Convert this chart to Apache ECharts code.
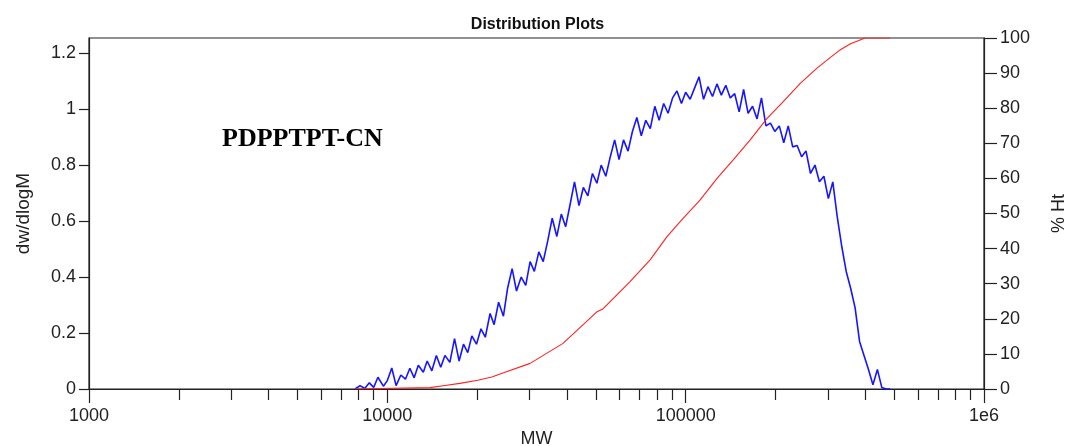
<!DOCTYPE html>
<html>
<head>
<meta charset="utf-8">
<script src="https://cdn.jsdelivr.net/npm/echarts@6/dist/echarts.min.js"></script>
<style>
html,body{margin:0;padding:0;background:#fff;}
#chart{width:1075px;height:446px;}
</style>
</head>
<body>
<div id="chart"></div>
<script>
// ---- data ----
const mw = [
  7800, 8100, 8400, 8700, 9000, 9300, 9700,
  10000, 10350, 10700, 11100, 11500, 11900, 12300, 12700, 13200, 13600,
  14100, 14600, 15100, 15600, 16200, 16800, 17400, 18000, 18600, 19200,
  19900, 20600, 21300, 22100, 22800, 23600, 24500, 25300, 26200, 27100,
  28100, 29100, 30100, 31100, 32200, 33300, 34500, 35700, 37000, 38300,
  39600, 41000, 42400, 43900, 45400, 47000, 48700, 50400, 52100, 54000,
  55900, 57800, 59800, 61900, 64100, 66300, 68600, 71000, 73500, 76100,
  78800, 81500, 84400, 87300, 90400, 93500, 96800,
  100000, 103500, 107100, 110900, 114800, 118800, 123000, 127300, 131700, 136300,
  141100, 146000, 151100, 156400, 161900, 167600, 173500, 179500, 185800, 192300,
  199000, 206000, 213200, 220700, 228400, 236400, 244700, 253200, 262100, 271300,
  280800, 290600, 300800, 311300, 322200, 333500, 345200, 357300, 369800, 382700,
  396100, 410000, 424300, 439200, 454500, 470000, 485000
];
const dwdlogM = [
  0, 0.012, 0.002, 0.022, 0.006, 0.042, 0.01,
  0.03, 0.075, 0.012, 0.05, 0.035, 0.074, 0.04, 0.085, 0.06, 0.1,
  0.065, 0.12, 0.078, 0.12, 0.095, 0.18, 0.1, 0.16, 0.13, 0.19,
  0.16, 0.215, 0.185, 0.27, 0.23, 0.31, 0.26, 0.36, 0.43, 0.35,
  0.40, 0.37, 0.455, 0.42, 0.49, 0.455, 0.53, 0.61, 0.545, 0.625,
  0.58, 0.66, 0.74, 0.655, 0.72, 0.69, 0.77, 0.735, 0.80, 0.76,
  0.83, 0.89, 0.82, 0.89, 0.85, 0.92, 0.97, 0.905, 0.96, 0.93,
  1.01, 0.96, 1.02, 0.985, 1.04, 1.065, 1.02,
  1.06, 1.035, 1.075, 1.115, 1.035, 1.08, 1.045, 1.09, 1.05, 1.085,
  1.04, 1.055, 0.99, 1.07, 0.985, 1.01, 0.965, 1.04, 0.94, 0.95,
  0.92, 0.94, 0.88, 0.94, 0.865, 0.87, 0.83, 0.85, 0.77, 0.80,
  0.74, 0.76, 0.68, 0.74, 0.615, 0.51, 0.42, 0.36, 0.29, 0.17,
  0.12, 0.07, 0.015, 0.07, 0.005, 0, 0
];
const redMw = [7800, 13900, 15600, 17500, 20100, 22400, 24800, 30100, 38800, 50400,
  52800, 65100, 76000, 86600, 98000, 111700, 127400, 144100, 164300, 187400,
  212000, 241700, 275600, 297700, 329200, 355500, 399300, 484200];
const pctHt = [0, 0.4, 1.0, 1.6, 2.5, 3.4, 4.8, 7.3, 13, 22,
  22.8, 30.6, 36.8, 43.4, 48.6, 53.8, 60, 65.2, 70.9, 77.1,
  81.8, 87, 91.4, 93.7, 96.6, 98.3, 100, 100];
const xMajorTicks = [1000, 10000, 100000, 1000000];
const xMinorTicks = [2000,3000,4000,5000,6000,7000,8000,9000,
  20000,30000,40000,50000,60000,70000,80000,90000,
  200000,300000,400000,500000,600000,700000,800000,900000];
const leftTicks = [0, 0.2, 0.4, 0.6, 0.8, 1, 1.2];
const rightTicks = [0,10,20,30,40,50,60,70,80,90,100];

const chart = echarts.init(document.getElementById('chart'), null, {renderer:'canvas'});
const FONT = 'Liberation Sans, Arial, Helvetica, sans-serif';
const axisCol = '#222';
const option = {
  animation: false,
  backgroundColor: '#fff',
  title: {
    text: 'Distribution Plots', left: 'center', top: 12,
    textStyle: {fontFamily: FONT, fontSize: 16, fontWeight: 'bold', color: '#111'}
  },
  grid: {left: 89, right: 91, top: 38, bottom: 57, show: true, borderColor: axisCol, borderWidth: 1.2,
    backgroundColor: 'transparent', containLabel: false, outerBoundsMode: 'none'},
  graphic: [{
    type: 'text', left: 222, top: 126,
    style: {text: 'PDPPTPT-CN', font: 'bold 26px "Liberation Serif", "Times New Roman", serif', fill: '#000'}
  }],
  xAxis: [{
    type: 'log', logBase: 10, min: 1000, max: 1000000,
    name: 'MW', nameLocation: 'middle', nameGap: 38,
    nameTextStyle: {fontFamily: FONT, fontSize: 18, color: '#222'},
    axisLine: {show: true, lineStyle: {color: axisCol, width: 1.2}},
    axisTick: {show: true, inside: false, length: 14, lineStyle: {color: axisCol, width: 1.2}, customValues: xMajorTicks},
    axisLabel: {fontFamily: FONT, fontSize: 18, color: '#222', margin: 18, customValues: xMajorTicks,
      formatter: v => v >= 1e6 ? '1e6' : String(Math.round(v))},
    splitLine: {show: false}
  }, {
    type: 'log', logBase: 10, min: 1000, max: 1000000, position: 'bottom',
    axisLine: {show: false},
    axisTick: {show: true, inside: false, length: 11, lineStyle: {color: axisCol, width: 1.2}, customValues: xMinorTicks},
    axisLabel: {show: false},
    splitLine: {show: false}
  }],
  yAxis: [{
    type: 'value', min: 0, max: 1.254, position: 'left',
    name: 'dw/dlogM', nameLocation: 'middle', nameGap: 56, nameRotate: 90,
    nameTextStyle: {fontFamily: FONT, fontSize: 19, color: '#222'},
    axisLine: {show: true, lineStyle: {color: axisCol, width: 1.2}},
    axisTick: {show: true, inside: false, length: 10, lineStyle: {color: axisCol, width: 1.2}, customValues: leftTicks},
    axisLabel: {fontFamily: FONT, fontSize: 18, color: '#222', margin: 13, customValues: leftTicks,
      formatter: v => String(Math.round(v * 10) / 10)},
    splitLine: {show: false}
  }, {
    type: 'value', min: 0, max: 100, interval: 10, position: 'right',
    name: '% Ht', nameLocation: 'middle', nameGap: 66, nameRotate: 90,
    nameTextStyle: {fontFamily: FONT, fontSize: 18, color: '#222'},
    axisLine: {show: true, lineStyle: {color: axisCol, width: 1.2}},
    axisTick: {show: true, inside: false, length: 13, lineStyle: {color: axisCol, width: 1.2}, customValues: rightTicks},
    axisLabel: {fontFamily: FONT, fontSize: 18, color: '#222', margin: 16, customValues: rightTicks},
    splitLine: {show: false}
  }],
  series: [{
    name: 'dw/dlogM', type: 'line', xAxisIndex: 0, yAxisIndex: 0,
    data: mw.map((m, i) => [m, dwdlogM[i]]),
    showSymbol: false, symbol: 'none',
    lineStyle: {color: '#1515ff', width: 1.6}
  }, {
    name: '% Ht', type: 'line', xAxisIndex: 0, yAxisIndex: 1,
    data: redMw.map((m, i) => [m, pctHt[i]]),
    showSymbol: false, symbol: 'none',
    lineStyle: {color: '#ff2020', width: 1.1}
  }]
};
chart.setOption(option);
</script>
</body>
</html>
